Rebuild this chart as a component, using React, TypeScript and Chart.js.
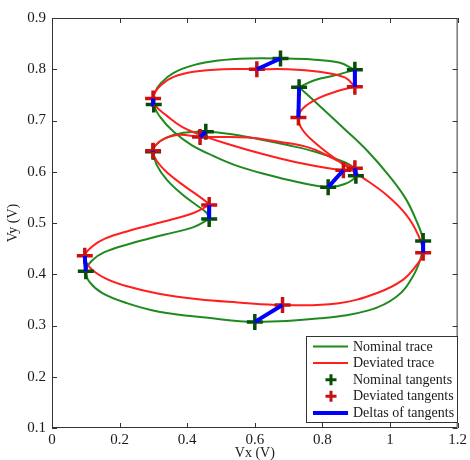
import React, { useEffect, useRef } from "react";
import { Chart, registerables } from "chart.js";

Chart.register(...registerables);

// ---- data (a repeated point marks a sharp turn) ----
const nominalTraceX = [
  0.465, 0.419, 0.331, 0.228, 0.155, 0.117, 0.1, 0.111, 0.149, 0.22, 0.316, 0.462, 0.6, 0.793, 0.939,
  1.019, 1.067, 1.092, 1.098, 1.077, 1.045, 0.995, 0.934, 0.866, 0.796, 0.731, 0.731, 0.779, 0.837,
  0.896, 0.896, 0.849, 0.77, 0.676, 0.58, 0.492, 0.419, 0.36, 0.322, 0.304, 0.301, 0.322, 0.36, 0.413,
  0.477, 0.55, 0.638, 0.726, 0.817, 0.866, 0.899, 0.89, 0.852, 0.779, 0.697, 0.609, 0.521, 0.455,
  0.389, 0.337, 0.307, 0.299, 0.31, 0.34, 0.383, 0.427, 0.457, 0.465,
];
const nominalTraceY = [
  0.508, 0.492, 0.477, 0.459, 0.443, 0.426, 0.406, 0.385, 0.363, 0.344, 0.327, 0.315, 0.307, 0.314, 0.33,
  0.356, 0.395, 0.434, 0.465, 0.506, 0.549, 0.594, 0.64, 0.683, 0.726, 0.765, 0.765, 0.779, 0.788,
  0.799, 0.799, 0.813, 0.819, 0.821, 0.821, 0.817, 0.808, 0.793, 0.773, 0.754, 0.731, 0.705, 0.678, 0.652,
  0.631, 0.611, 0.594, 0.58, 0.57, 0.576, 0.592, 0.609, 0.622, 0.639, 0.652, 0.664, 0.674, 0.678,
  0.676, 0.666, 0.652, 0.639, 0.613, 0.584, 0.557, 0.535, 0.52, 0.508,
];
const deviatedTraceX = [
  0.465, 0.4185, 0.331, 0.228, 0.155, 0.117, 0.097, 0.111, 0.155, 0.2195, 0.316, 0.433, 0.55, 0.682,
  0.843, 0.96, 1.038, 1.082, 1.098, 1.083, 1.048, 0.989, 0.916, 0.843, 0.779, 0.74, 0.729, 0.743, 0.79,
  0.843, 0.896, 0.896, 0.866, 0.79, 0.697, 0.606, 0.506, 0.4185, 0.36, 0.322, 0.304, 0.299, 0.307, 0.34,
  0.386, 0.439, 0.515, 0.615, 0.726, 0.862, 0.896, 0.862, 0.765, 0.667, 0.58, 0.438, 0.375, 0.331,
  0.307, 0.299, 0.31, 0.345, 0.392, 0.433, 0.457, 0.465,
];
const deviatedTraceY = [
  0.535, 0.5195, 0.503, 0.485, 0.469, 0.453, 0.436, 0.414, 0.393, 0.377, 0.362, 0.351, 0.345, 0.34,
  0.343, 0.363, 0.389, 0.421, 0.442, 0.477, 0.516, 0.555, 0.59, 0.623, 0.656, 0.683, 0.706, 0.724, 0.744,
  0.757, 0.766, 0.766, 0.784, 0.795, 0.8, 0.8, 0.8, 0.795, 0.785, 0.769, 0.754, 0.743, 0.728, 0.709,
  0.687, 0.672, 0.655, 0.636, 0.618, 0.603, 0.607, 0.616, 0.646, 0.659, 0.667, 0.668, 0.672, 0.664,
  0.652, 0.641, 0.621, 0.596, 0.572, 0.553, 0.541, 0.535,
];

const nominalTanX = [0.676, 0.896, 0.731, 0.301, 0.455, 0.299, 0.817, 0.899, 0.465, 0.1, 0.6, 1.098];
const nominalTanY = [0.821, 0.799, 0.765, 0.731, 0.678, 0.639, 0.57, 0.592, 0.508, 0.406, 0.307, 0.465];
const deviatedTanX = [0.606, 0.896, 0.729, 0.299, 0.438, 0.299, 0.862, 0.896, 0.465, 0.097, 0.682, 1.098];
const deviatedTanY = [0.8, 0.766, 0.706, 0.743, 0.668, 0.641, 0.603, 0.607, 0.535, 0.436, 0.34, 0.442];

const xTickValues = [0, 0.2, 0.4, 0.6, 0.8, 1, 1.2];
const xTickLabels = ["0", "0.2", "0.4", "0.6", "0.8", "1", "1.2"];
const yTickValues = [0.1, 0.2, 0.3, 0.4, 0.5, 0.6, 0.7, 0.8, 0.9];
const yTickLabels = ["0.1", "0.2", "0.3", "0.4", "0.5", "0.6", "0.7", "0.8", "0.9"];
const legendLabels = ["Nominal trace", "Deviated trace", "Nominal tangents", "Deviated tangents", "Deltas of tangents"];

// ---- styles ----
const GREEN = "#1f8a1f";
const RED = "#ff1f1f";
const DARK_GREEN = "#064d06";
const DARK_RED = "#cc1010";
const BLUE = "#0000ff";
const SERIF = "'Liberation Serif', 'Times New Roman', serif";
const TEXT = "#1a1a1a";

const toPoints = (xs: number[], ys: number[]) => xs.map((x, i) => ({ x, y: ys[i] }));

const deltaPoints = () => {
  const pts: { x: number; y: number }[] = [];
  nominalTanX.forEach((x, i) => {
    pts.push({ x, y: nominalTanY[i] });
    pts.push({ x: deviatedTanX[i], y: deviatedTanY[i] });
    pts.push({ x: NaN, y: NaN });
  });
  return pts;
};

const frameTicksPlugin = {
  id: "frameTicks",
  afterDraw(chart: any) {
    const { ctx, chartArea } = chart;
    const { left, right, top, bottom } = chartArea;
    const xs = chart.scales.x;
    const ys = chart.scales.y;
    ctx.save();
    ctx.strokeStyle = "#333";
    ctx.lineWidth = 1;
    ctx.beginPath();
    ctx.rect(left + 0.5, top + 0.5, right - left - 1, bottom - top - 1);
    ctx.stroke();
    const L = 5;
    ctx.beginPath();
    xTickValues.forEach((v) => {
      const p = Math.round(xs.getPixelForValue(v)) + 0.5;
      ctx.moveTo(p, bottom);
      ctx.lineTo(p, bottom - L);
      ctx.moveTo(p, top);
      ctx.lineTo(p, top + L);
    });
    yTickValues.forEach((v) => {
      const p = Math.round(ys.getPixelForValue(v)) + 0.5;
      ctx.moveTo(left, p);
      ctx.lineTo(left + L, p);
      ctx.moveTo(right, p);
      ctx.lineTo(right - L, p);
    });
    ctx.stroke();
    ctx.restore();
  },
};

const boxLegendPlugin = {
  id: "boxLegend",
  afterDraw(chart: any) {
    const { ctx } = chart;
    const bx = 306,
      by = 336,
      bw = 152,
      bh = 87;
    ctx.save();
    ctx.fillStyle = "#fff";
    ctx.fillRect(bx, by, bw, bh);
    ctx.strokeStyle = "#333";
    ctx.lineWidth = 1;
    ctx.strokeRect(bx + 0.5, by + 0.5, bw - 1, bh - 1);
    const rowY = (i: number) => by + 10.5 + i * 16.6;
    const x0 = 313,
      x1 = 348,
      xm = 331;
    const drawLine = (i: number, color: string, w: number) => {
      ctx.strokeStyle = color;
      ctx.lineWidth = w;
      ctx.beginPath();
      ctx.moveTo(x0, rowY(i));
      ctx.lineTo(x1, rowY(i));
      ctx.stroke();
    };
    const drawCross = (i: number, color: string) => {
      ctx.strokeStyle = color;
      ctx.lineWidth = 3;
      const r = 5.5;
      const y = rowY(i);
      ctx.beginPath();
      ctx.moveTo(xm - r, y);
      ctx.lineTo(xm + r, y);
      ctx.moveTo(xm, y - r);
      ctx.lineTo(xm, y + r);
      ctx.stroke();
    };
    drawLine(0, GREEN, 2);
    drawLine(1, RED, 2);
    drawCross(2, DARK_GREEN);
    drawCross(3, DARK_RED);
    drawLine(4, BLUE, 4);
    ctx.fillStyle = TEXT;
    ctx.font = `14px ${SERIF}`;
    ctx.textAlign = "left";
    ctx.textBaseline = "middle";
    legendLabels.forEach((t, i) => ctx.fillText(t, 353, rowY(i) + 0.5));
    ctx.restore();
  },
};

export default function App() {
  const ref = useRef<HTMLCanvasElement | null>(null);

  useEffect(() => {
    if (!ref.current) return;
    const chart = new Chart(ref.current, {
      type: "scatter",
      data: {
        datasets: [
          {
            label: legendLabels[0],
            data: toPoints(nominalTraceX, nominalTraceY),
            showLine: true,
            borderColor: GREEN,
            backgroundColor: GREEN,
            borderWidth: 2,
            pointRadius: 0,
            tension: 0.4,
            order: 5,
          },
          {
            label: legendLabels[1],
            data: toPoints(deviatedTraceX, deviatedTraceY),
            showLine: true,
            borderColor: RED,
            backgroundColor: RED,
            borderWidth: 2,
            pointRadius: 0,
            tension: 0.4,
            order: 4,
          },
          {
            label: legendLabels[2],
            data: toPoints(nominalTanX, nominalTanY),
            showLine: false,
            pointStyle: "cross",
            pointRadius: 8,
            borderColor: DARK_GREEN,
            backgroundColor: DARK_GREEN,
            borderWidth: 3.5,
            order: 3,
          },
          {
            label: legendLabels[3],
            data: toPoints(deviatedTanX, deviatedTanY),
            showLine: false,
            pointStyle: "cross",
            pointRadius: 8,
            borderColor: DARK_RED,
            backgroundColor: DARK_RED,
            borderWidth: 3.5,
            order: 2,
          },
          {
            label: legendLabels[4],
            data: deltaPoints(),
            showLine: true,
            spanGaps: false,
            borderColor: BLUE,
            backgroundColor: BLUE,
            borderWidth: 4,
            pointRadius: 0,
            tension: 0,
            order: 1,
          },
        ],
      },
      options: {
        animation: false,
        responsive: false,
        events: [],
        layout: { padding: { top: 18, right: 8, left: 0, bottom: 0 } },
        plugins: {
          legend: { display: false },
          tooltip: { enabled: false },
          title: { display: false },
        },
        scales: {
          x: {
            type: "linear",
            min: 0,
            max: 1.2,
            grid: { display: false, drawTicks: false },
            border: { display: false },
            afterBuildTicks: (s: any) => {
              s.ticks = xTickValues.map((v) => ({ value: v }));
            },
            afterFit: (s: any) => {
              s.height = 32;
            },
            ticks: {
              autoSkip: false,
              maxRotation: 0,
              padding: 3,
              color: TEXT,
              font: { family: SERIF, size: 15 },
              callback: (_v: any, i: number) => xTickLabels[i],
            },
            title: {
              display: true,
              text: "Vx (V)",
              color: TEXT,
              font: { family: SERIF, size: 14, lineHeight: 1 },
              padding: { top: 0, bottom: 0 },
            },
          },
          y: {
            type: "linear",
            min: 0.1,
            max: 0.9,
            grid: { display: false, drawTicks: false },
            border: { display: false },
            afterBuildTicks: (s: any) => {
              s.ticks = yTickValues.map((v) => ({ value: v }));
            },
            afterFit: (s: any) => {
              s.width = 52;
            },
            ticks: {
              autoSkip: false,
              padding: 6,
              color: TEXT,
              font: { family: SERIF, size: 15 },
              callback: (_v: any, i: number) => yTickLabels[i],
            },
            title: {
              display: true,
              text: "Vy (V)",
              color: TEXT,
              font: { family: SERIF, size: 14, lineHeight: 1 },
              padding: { top: 6, bottom: 0 },
            },
          },
        },
      },
      plugins: [frameTicksPlugin, boxLegendPlugin],
    } as any);
    return () => chart.destroy();
  }, []);

  return (
    <div style={{ position: "fixed", left: 0, top: 0, width: 470, height: 460, background: "#fff" }}>
      <canvas ref={ref} width={470} height={460} style={{ width: 470, height: 460, display: "block" }} />
    </div>
  );
}
